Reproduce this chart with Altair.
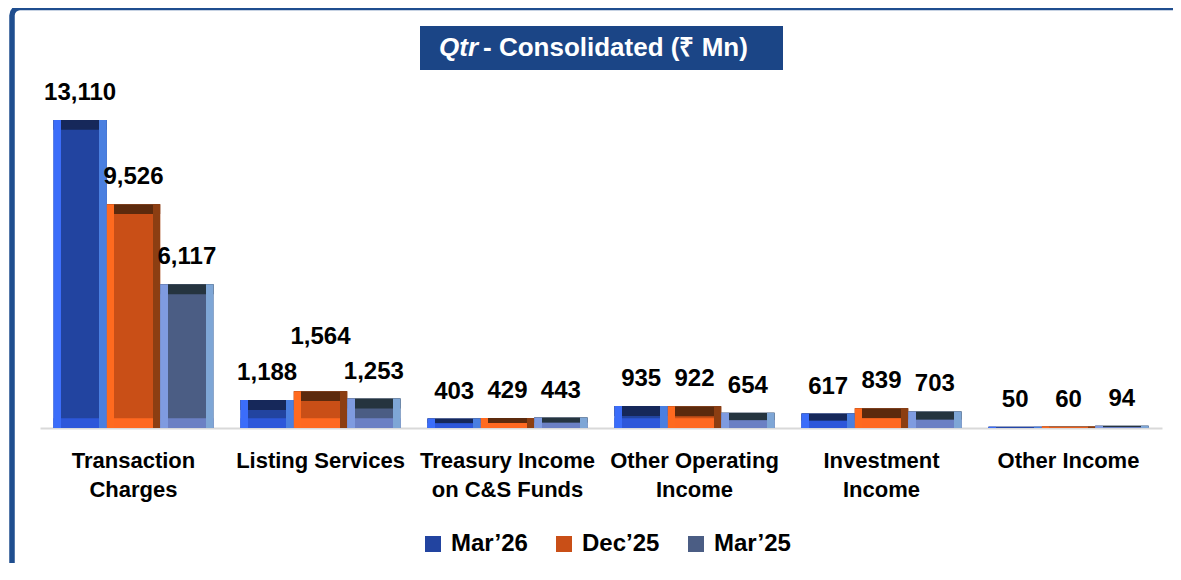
import altair as alt
import pandas as pd

# ---- data ----
categories = ["Transaction\nCharges", "Listing Services", "Treasury Income\non C&S Funds",
              "Other Operating\nIncome", "Investment\nIncome", "Other Income"]
periods = ["Mar’26", "Dec’25", "Mar’25"]
mar26 = [13110, 1188, 403, 935, 617, 50]
dec25 = [9526, 1564, 429, 922, 839, 60]
mar25 = [6117, 1253, 443, 654, 703, 94]

# ---- styles ----
face_colors = ["#2244A0", "#C94F17", "#4B5D84"]
top_colors = ["#16285A", "#5C2A0D", "#25343F"]
bottom_colors = ["#2D57DA", "#FF6820", "#6B80C4"]
left_colors = ["#3B6DFA", "#FF6A1F", "#7F9BE0"]
right_colors = ["#4A7FE0", "#8C3E12", "#7EA6D6"]
FONT = "Liberation Sans"

rows = []
for p, series in zip(periods, [mar26, dec25, mar25]):
    for c, v in zip(categories, series):
        rows.append({"category": c, "period": p, "value": v})
df = pd.DataFrame(rows)

x_enc = alt.X(
    "category:N",
    scale=alt.Scale(domain=categories, paddingInner=0.144, paddingOuter=0.072),
    axis=alt.Axis(title=None, labelFontSize=22, labelFontWeight="bold", labelColor="black",
                  labelFont=FONT, labelPadding=22, labelLineHeight=29, ticks=False,
                  domainColor="#D9D9D9", domainWidth=2, labelAngle=0, labelLimit=0,
                  grid=False, labelExpr="split(datum.label, '\\n')"),
)
xo_enc = alt.XOffset("period:N", scale=alt.Scale(domain=periods, paddingInner=0, paddingOuter=0))
y_scale = alt.Scale(domain=[0, 13110], nice=False, zero=True)

base = alt.Chart(df).encode(x=x_enc, xOffset=xo_enc)

face = base.mark_bar().encode(
    y=alt.Y("value:Q", scale=y_scale, axis=None),
    color=alt.Color("period:N", scale=alt.Scale(domain=periods, range=face_colors),
                    legend=alt.Legend(title=None, orient="none", legendX=381, legendY=412,
                                      direction="horizontal", symbolType="square",
                                      symbolSize=256, symbolStrokeWidth=0,
                                      labelFontSize=24, labelFontWeight="bold",
                                      labelFont=FONT, labelColor="black",
                                      labelOffset=6, columnPadding=24)),
)

top = base.transform_calculate(t="datum.value - min(datum.value / 2, 420)").mark_bar().encode(
    y=alt.Y("value:Q", scale=y_scale, axis=None),
    y2="t:Q",
    color=alt.Color("period:N", scale=alt.Scale(domain=periods, range=top_colors), legend=None),
)

bottom = base.transform_calculate(b="min(datum.value / 2, 420)").mark_bar().encode(
    y=alt.Y("b:Q", scale=y_scale, axis=None),
    color=alt.Color("period:N", scale=alt.Scale(domain=periods, range=bottom_colors), legend=None),
)

sides = []
for p, lc, rc in zip(periods, left_colors, right_colors):
    grad = alt.Gradient(
        gradient="linear", x1=0, x2=1, y1=0, y2=0,
        stops=[
            alt.GradientStop(color=lc, offset=0),
            alt.GradientStop(color=lc, offset=0.14),
            alt.GradientStop(color="rgba(0,0,0,0)", offset=0.14),
            alt.GradientStop(color="rgba(0,0,0,0)", offset=0.86),
            alt.GradientStop(color=rc, offset=0.86),
            alt.GradientStop(color=rc, offset=1),
        ],
    )
    sides.append(
        base.transform_filter(alt.datum.period == p).mark_bar(color=grad).encode(
            y=alt.Y("value:Q", scale=y_scale, axis=None)
        )
    )

is_lifted = (alt.datum.category == "Listing Services") & (alt.datum.period == "Dec’25")
text_style = dict(baseline="middle", fontSize=24, fontWeight="bold", font=FONT, color="black")
labels = base.transform_filter(~is_lifted).mark_text(dy=-27, **text_style).encode(
    y=alt.Y("value:Q", scale=y_scale, axis=None),
    text=alt.Text("value:Q", format=","),
)
labels_lifted = base.transform_filter(is_lifted).mark_text(dy=-54, **text_style).encode(
    y=alt.Y("value:Q", scale=y_scale, axis=None),
    text=alt.Text("value:Q", format=","),
)

one = pd.DataFrame({"k": [0]})
frame = alt.Chart(one).mark_rect(fillOpacity=0, stroke="#1F4E8F", strokeWidth=5.5,
                                 cornerRadius=8).encode(
    x=alt.value(-28), x2=alt.value(1300), y=alt.value(-112.5), y2=alt.value(700)
)
title_box = alt.Chart(one).mark_rect(color="#1B4586").encode(
    x=alt.value(380), x2=alt.value(743), y=alt.value(-94), y2=alt.value(-50)
)
title_a = alt.Chart(one).mark_text(text="Qtr", align="right", baseline="middle", fontSize=26,
                                   fontWeight="bold", fontStyle="italic", font=FONT,
                                   color="white").encode(x=alt.value(438), y=alt.value(-72))
title_b = alt.Chart(one).mark_text(text="- Consolidated (₹ Mn)", align="left", baseline="middle",
                                   fontSize=26, fontWeight="bold", font=FONT,
                                   color="white").encode(x=alt.value(443), y=alt.value(-72))

chart = alt.layer(
    frame, face, top, bottom, *sides, labels, labels_lifted, title_box, title_a, title_b
).resolve_scale(color="independent").properties(
    width=1122, height=308,
    padding={"left": 32, "top": 112, "right": 11, "bottom": 135},
    autosize="none",
).configure(font=FONT).configure_view(strokeWidth=0, stroke="transparent")

chart.save("out.html", embed_options={"renderer": "svg", "actions": False})
